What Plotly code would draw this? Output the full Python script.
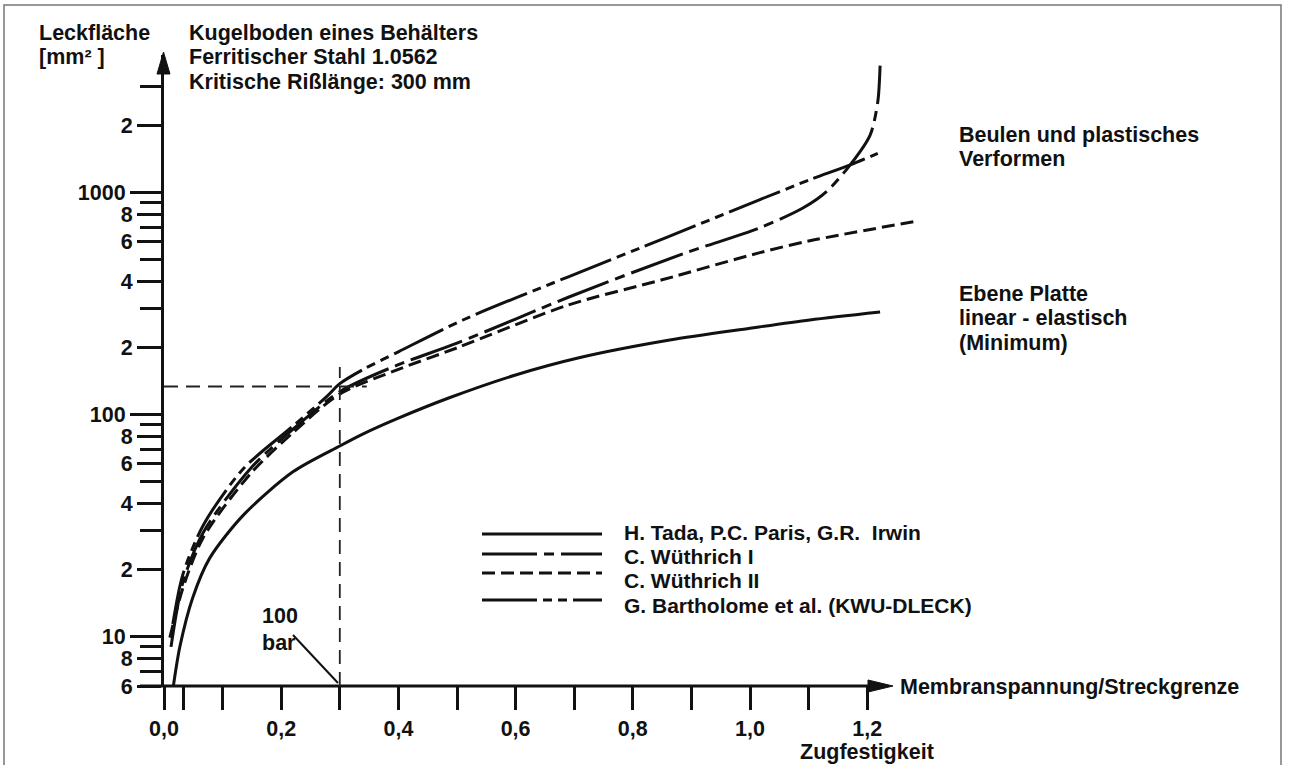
import math
import plotly.graph_objects as go

# ---------------- data ----------------
# x: Membranspannung / Streckgrenze, y: Leckfläche [mm²]
tada_x = [0.016, 0.027, 0.049, 0.078, 0.135, 0.22, 0.30, 0.34, 0.40, 0.488, 0.60, 0.71, 0.863, 1.0, 1.102, 1.222]
tada_y = [6.0, 9.0, 15.0, 22.6, 35.2, 55.3, 72.3, 82, 96.5, 119.5, 151, 181, 217, 245, 267, 290]

wuethrich1_x = [0.012, 0.032, 0.067, 0.147, 0.22, 0.30, 0.40, 0.50, 0.69, 0.886, 1.017, 1.091, 1.131, 1.171, 1.205, 1.218, 1.222]
wuethrich1_y = [9.0, 17.5, 29.5, 57, 86, 127, 168, 210, 338, 531, 695, 855, 1014, 1334, 1817, 2560, 3733]

wuethrich2_x = [0.010, 0.032, 0.067, 0.147, 0.22, 0.30, 0.40, 0.50, 0.69, 0.85, 1.017, 1.102, 1.287]
wuethrich2_y = [9.9, 16.5, 28, 54, 83, 124, 160, 200, 312, 405, 537, 607, 746]

bartholome_x = [0.015, 0.032, 0.067, 0.135, 0.22, 0.278, 0.30, 0.34, 0.40, 0.51, 0.69, 0.86, 1.017, 1.102, 1.171, 1.218]
bartholome_y = [11.4, 19, 31.8, 57, 88.8, 121, 138, 160, 192, 267, 418, 632, 931, 1143, 1334, 1503]

series_names = ["H. Tada, P.C. Paris, G.R.  Irwin", "C. Wüthrich I", "C. Wüthrich II",
                "G. Bartholome et al. (KWU-DLECK)"]

# 100 bar guide
guide_x = 0.3
guide_y = 134

x_tickvals = [0.0, 0.033, 0.1, 0.2, 0.3, 0.4, 0.5, 0.6, 0.7, 0.8, 0.9, 1.0, 1.1, 1.2]
x_ticktext = ["0,0", "", "", "0,2", "", "0,4", "", "0,6", "", "0,8", "", "1,0", "", "1,2"]

y_tickvals = [6, 8, 20, 40, 60, 80, 200, 400, 600, 800, 2000]
y_ticktext = ["6", "8", "2", "4", "6", "8", "2", "4", "6", "8", "2"]
y_decade_vals = [10, 100, 1000]
y_decade_text = ["10", "100", "1000"]
y_minor_vals = [7, 9, 30, 50, 70, 90, 300, 500, 700, 900, 3000]

# ---------------- layout geometry ----------------
W, H = 1290, 765
L, R, T, B = 164, 930, 55, 686
X_PER_UNIT = 586.0
X_MAX = (R - L) / X_PER_UNIT
Y_RANGE = [math.log10(6), 3.62]

FONT = "Liberation Sans, Arial, Helvetica, sans-serif"
FS = 21.5
INK = "#111111"


def PX(xp):
    return (xp - L) / (R - L)


def PY(yp):
    return (B - yp) / (B - T)


fig = go.Figure()

styles = [
    dict(dash="solid"),
    dict(dash="55px,7px,10px,7px"),
    dict(dash="13px,6px"),
    dict(dash="55px,6px,9px,6px,9px,6px"),
]
series = [(tada_x, tada_y), (wuethrich1_x, wuethrich1_y),
          (wuethrich2_x, wuethrich2_y), (bartholome_x, bartholome_y)]

for (xs, ys), st, nm in zip(series, styles, series_names):
    fig.add_trace(go.Scatter(
        x=xs, y=ys, mode="lines", name=nm, showlegend=False, hoverinfo="skip",
        line=dict(color=INK, width=3, dash=st["dash"], shape="spline", smoothing=0.8),
    ))

# invisible trace to carry the overlay axis (decade ticks)
fig.add_trace(go.Scatter(x=[0.5], y=[100], yaxis="y2", mode="markers",
                         marker=dict(opacity=0), showlegend=False, hoverinfo="skip"))

tickfont = dict(family=FONT, size=FS, color=INK, weight="bold")

shapes = []
# x axis line + arrow
shapes.append(dict(type="line", xref="paper", yref="paper", x0=PX(140), x1=PX(880),
                   y0=PY(686), y1=PY(686), line=dict(color=INK, width=3)))
shapes.append(dict(type="path", xref="paper", yref="paper",
                   path=f"M{PX(893)},{PY(686)} L{PX(868)},{PY(680)} L{PX(868)},{PY(692)} Z",
                   fillcolor=INK, line=dict(color=INK, width=1)))
# y axis arrow
shapes.append(dict(type="path", xref="paper", yref="paper",
                   path=f"M{PX(163.5)},{PY(52)} L{PX(157)},{PY(74)} L{PX(170)},{PY(74)} Z",
                   fillcolor=INK, line=dict(color=INK, width=1)))
# 100 bar guides
shapes.append(dict(type="line", xref="x", yref="y", x0=0, x1=0.346, y0=guide_y, y1=guide_y,
                   line=dict(color="#222222", width=1.8, dash="14px,8px")))
shapes.append(dict(type="line", xref="x", yref="y", x0=guide_x, x1=guide_x, y0=6, y1=164,
                   line=dict(color="#222222", width=1.8, dash="14px,8px")))
# leader line for "100 bar"
shapes.append(dict(type="line", xref="paper", yref="paper", x0=PX(293), y0=PY(635),
                   x1=PX(338), y1=PY(683), line=dict(color=INK, width=2)))
# frame (open at the bottom edge of the picture)
shapes.append(dict(type="rect", xref="paper", yref="paper", x0=PX(4), x1=PX(1281),
                   y0=PY(770), y1=PY(5), line=dict(color="#777777", width=1.5)))
# legend samples
leg_y = [534, 554, 573, 600]
leg_text_y = [532, 556, 580, 605]
for st, ly in zip(styles, leg_y):
    shapes.append(dict(type="line", xref="paper", yref="paper", x0=PX(482), x1=PX(602),
                       y0=PY(ly), y1=PY(ly), line=dict(color=INK, width=3, dash=st["dash"])))

annots = []


def txt(s, xp, yp, xanchor="left", size=FS):
    annots.append(dict(text=s, x=PX(xp), y=PY(yp), xref="paper", yref="paper",
                       xanchor=xanchor, yanchor="middle", showarrow=False,
                       font=dict(family=FONT, size=size, color=INK, weight="bold")))


txt("Leckfläche", 37, 33)
txt("[mm² ]", 37, 57)
txt("Kugelboden eines Behälters", 187, 33)
txt("Ferritischer Stahl 1.0562", 187, 57)
txt("Kritische Rißlänge: 300 mm", 187, 82)
txt("Beulen und plastisches", 957, 135)
txt("Verformen", 957, 159)
txt("Ebene Platte", 957, 294)
txt("linear - elastisch", 957, 318)
txt("(Minimum)", 957, 343)
txt("100", 260, 616)
txt("bar", 260, 643)
txt("Membranspannung/Streckgrenze", 898, 687)
txt("Zugfestigkeit", 867, 752, xanchor="center")
for nm, ty in zip(series_names, leg_text_y):
    txt(nm, 622, ty, size=21)

fig.update_layout(
    width=W, height=H,
    margin=dict(l=L, r=W - R, t=T, b=H - B, pad=0),
    paper_bgcolor="white", plot_bgcolor="white",
    showlegend=False,
    xaxis=dict(range=[0, X_MAX], showline=False, showgrid=False, zeroline=False,
               ticks="outside", ticklen=23, tickwidth=3, tickcolor=INK,
               tickmode="array", tickvals=x_tickvals, ticktext=x_ticktext,
               tickfont=tickfont, fixedrange=True),
    yaxis=dict(type="log", range=Y_RANGE, showline=True, linewidth=3, linecolor=INK,
               showgrid=False, zeroline=False, ticks="outside", ticklen=24, tickwidth=3,
               tickcolor=INK, tickmode="array", tickvals=y_tickvals, ticktext=y_ticktext,
               tickfont=tickfont, fixedrange=True,
               minor=dict(tickmode="array", tickvals=y_minor_vals, ticks="outside",
                          ticklen=21, tickwidth=3, tickcolor=INK, showgrid=False)),
    yaxis2=dict(type="log", range=Y_RANGE, overlaying="y", side="left", anchor="x",
                showline=False, showgrid=False, zeroline=False, ticks="outside",
                ticklen=33, tickwidth=3, tickcolor=INK, tickmode="array",
                tickvals=y_decade_vals, ticktext=y_decade_text, tickfont=tickfont,
                fixedrange=True),
    shapes=shapes,
    annotations=annots,
)

fig.write_html("out.html")
